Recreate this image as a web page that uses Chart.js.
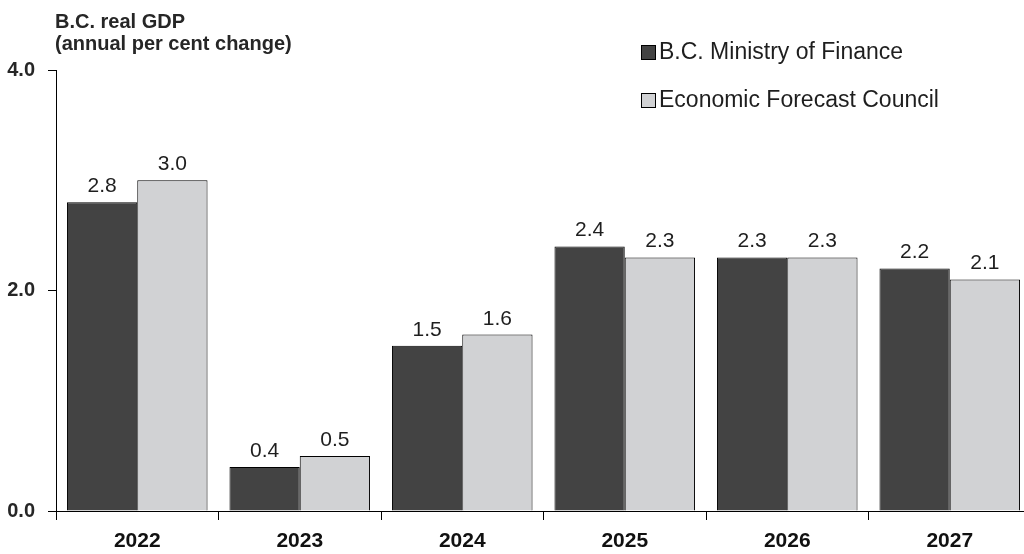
<!DOCTYPE html>
<html>
<head>
<meta charset="utf-8">
<script src="https://cdn.jsdelivr.net/npm/chart.js@4.4.1/dist/chart.umd.min.js"></script>
<style>
  html, body { margin: 0; padding: 0; background: #ffffff; overflow: hidden; }
  #wrap { width: 1031px; height: 554px; }
</style>
</head>
<body>
<div id="wrap"><canvas id="gdp" width="1031" height="554"></canvas></div>
<script>
// Forecast years
const years = ['2022', '2023', '2024', '2025', '2026', '2027'];
// Real GDP growth, annual per cent change
const ministryOfFinance = [2.8, 0.4, 1.5, 2.4, 2.3, 2.2];
const economicForecastCouncil = [3.0, 0.5, 1.6, 2.3, 2.3, 2.1];
// Series names
const seriesNames = ['B.C. Ministry of Finance', 'Economic Forecast Council'];
// Axis title lines and tick values
const titleLines = ['B.C. real GDP', '(annual per cent change)'];
const yTicks = [0, 2, 4];

const FONT = '"Liberation Sans", Arial, Helvetica, sans-serif';
const DARK = '#434343';
const LIGHT = '#d1d2d4';

// Value printed above every bar
const valueLabels = {
  id: 'valueLabels',
  afterDatasetsDraw(chart) {
    const ctx = chart.ctx;
    ctx.save();
    ctx.font = '21px ' + FONT;
    ctx.fillStyle = '#1e1e1e';
    ctx.textAlign = 'center';
    ctx.textBaseline = 'alphabetic';
    chart.data.datasets.forEach((ds, i) => {
      chart.getDatasetMeta(i).data.forEach((bar, j) => {
        ctx.fillText(ds.data[j].toFixed(1), bar.x, bar.y - 10);
      });
    });
    ctx.restore();
  }
};

// Two-line heading over the value axis
const axisHeading = {
  id: 'axisHeading',
  afterDraw(chart) {
    const ctx = chart.ctx;
    ctx.save();
    ctx.font = 'bold 20px ' + FONT;
    ctx.fillStyle = '#262626';
    ctx.textAlign = 'left';
    ctx.textBaseline = 'alphabetic';
    ctx.fillText(titleLines[0], 55, 28);
    ctx.fillText(titleLines[1], 55, 50);
    ctx.restore();
  }
};

// Stacked legend in the upper right
const boxLegend = {
  id: 'boxLegend',
  afterDraw(chart) {
    const ctx = chart.ctx;
    ctx.save();
    ctx.font = '23px ' + FONT;
    ctx.textAlign = 'left';
    ctx.textBaseline = 'middle';
    const rows = [53, 101];
    chart.data.datasets.forEach((ds, i) => {
      const y = rows[i];
      ctx.fillStyle = ds.backgroundColor;
      ctx.fillRect(641.5, y - 7.5, 14, 14);
      ctx.strokeStyle = '#000';
      ctx.lineWidth = 1;
      ctx.strokeRect(641.5, y - 7.5, 14, 14);
      ctx.fillStyle = '#1e1e1e';
      ctx.fillText(ds.label, 659, y);
    });
    ctx.restore();
  }
};

new Chart(document.getElementById('gdp'), {
  type: 'bar',
  data: {
    labels: years,
    datasets: [
      {
        label: seriesNames[0],
        data: ministryOfFinance,
        backgroundColor: DARK,
        borderColor: '#000',
        borderWidth: 1,
        categoryPercentage: 0.865,
        barPercentage: 1.0
      },
      {
        label: seriesNames[1],
        data: economicForecastCouncil,
        backgroundColor: LIGHT,
        borderColor: '#000',
        borderWidth: 1,
        categoryPercentage: 0.865,
        barPercentage: 1.0
      }
    ]
  },
  options: {
    responsive: false,
    animation: false,
    devicePixelRatio: 1,
    layout: { padding: { top: 70, right: 0, left: 0, bottom: 0 } },
    plugins: {
      legend: { display: false },
      tooltip: { enabled: false }
    },
    scales: {
      x: {
        offset: true,
        grid: {
          offset: true,
          drawOnChartArea: false,
          drawTicks: true,
          tickLength: 9,
          tickColor: '#000',
          tickWidth: 1
        },
        border: { display: true, color: '#000', width: 1 },
        ticks: {
          font: { family: FONT, size: 21, weight: 'bold' },
          color: '#111',
          padding: 9,
          maxRotation: 0
        },
        afterFit(scale) { scale.height = 43; }
      },
      y: {
        min: 0,
        max: 4,
        afterBuildTicks(scale) { scale.ticks = yTicks.map(v => ({ value: v })); },
        grid: {
          drawOnChartArea: false,
          drawTicks: true,
          tickLength: 8,
          tickColor: '#000',
          tickWidth: 1
        },
        border: { display: true, color: '#000', width: 1 },
        ticks: {
          font: { family: FONT, size: 20, weight: 'bold' },
          color: '#262626',
          padding: 13,
          callback: v => Number(v).toFixed(1)
        },
        afterFit(scale) { scale.width = 56; }
      }
    }
  },
  plugins: [valueLabels, axisHeading, boxLegend]
});
</script>
</body>
</html>
